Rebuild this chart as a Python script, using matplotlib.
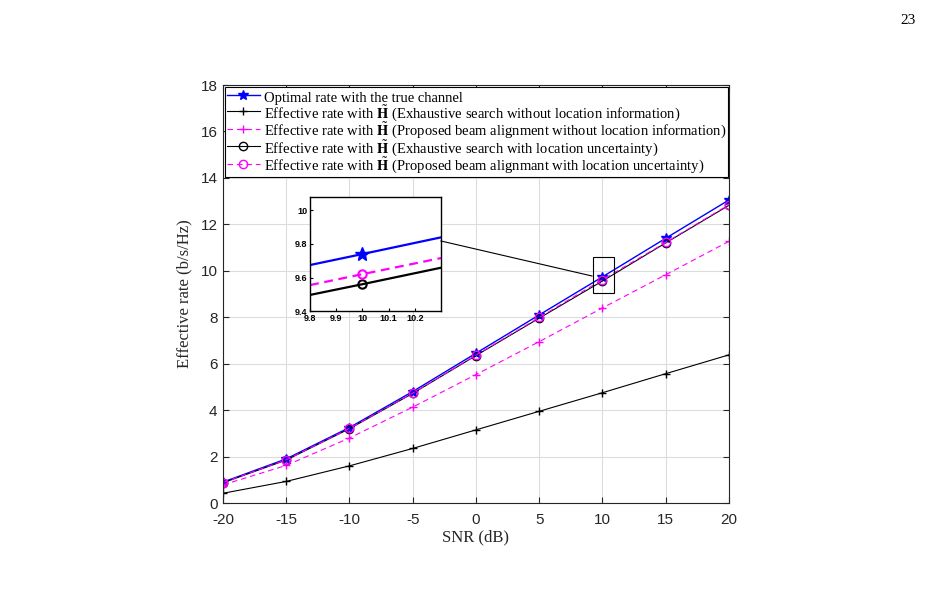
import numpy as np
import matplotlib
matplotlib.use("Agg")
import matplotlib.pyplot as plt
from matplotlib.patches import Rectangle

plt.rcParams['mathtext.fontset'] = 'stix'
plt.rcParams['axes.unicode_minus'] = False

snr = [-20, -15, -10, -5, 0, 5, 10, 15, 20]
rate_opt = [0.90, 1.90, 3.25, 4.80, 6.45, 8.10, 9.74, 11.40, 13.05]
rate_exh_noloc = [0.42, 0.93, 1.60, 2.35, 3.15, 3.95, 4.75, 5.57, 6.38]
rate_prop_noloc = [0.78, 1.62, 2.80, 4.13, 5.53, 6.95, 8.40, 9.83, 11.27]
rate_exh_loc = [0.87, 1.85, 3.20, 4.72, 6.35, 7.96, 9.56, 11.20, 12.82]
rate_prop_loc = [0.88, 1.86, 3.21, 4.73, 6.37, 7.99, 9.62, 11.22, 12.85]

labels = [
    'Optimal rate with the true channel',
    r'Effective rate with $\tilde{\mathbf{H}}$ (Exhaustive search without location information)',
    r'Effective rate with $\tilde{\mathbf{H}}$ (Proposed beam alignment without location information)',
    r'Effective rate with $\tilde{\mathbf{H}}$ (Exhaustive search with location uncertainty)',
    r'Effective rate with $\tilde{\mathbf{H}}$ (Proposed beam alignmant with location uncertainty)',
]

serif = 'Liberation Serif'
sans = 'Liberation Sans'
axcol = '#262626'
dash = (5, 3.5)

fig = plt.figure(figsize=(9.36, 6.03), dpi=100)
ax = fig.add_axes([0.2382, 0.1658, 0.5406, 0.6932])

ax.plot(snr, rate_opt, '-', color='blue', marker='*', ms=7, lw=1.0, label=labels[0])
ax.plot(snr, rate_exh_noloc, '-', color='black', marker='+', ms=6, lw=0.8, label=labels[1])
ax.plot(snr, rate_prop_noloc, '--', dashes=dash, color='magenta', marker='+', ms=6, lw=0.8, label=labels[2])
ax.plot(snr, rate_exh_loc, '-', color='black', marker='o', ms=6, mfc='none', lw=0.8, label=labels[3])
ax.plot(snr, rate_prop_loc, '--', dashes=dash, color='magenta', marker='o', ms=6, mfc='none', lw=0.8, label=labels[4])

ax.set_xlim(-20, 20)
ax.set_ylim(0, 18)
ax.set_xticks(range(-20, 21, 5))
ax.set_yticks(range(0, 19, 2))
ax.grid(True, color='#dcdcdc', lw=0.8)
ax.set_axisbelow(True)
ax.tick_params(direction='in', top=True, right=True, length=4, colors=axcol, labelsize=11)
ax.tick_params(axis='x', pad=7)
ax.tick_params(axis='y', pad=4)
for lab in ax.get_xticklabels() + ax.get_yticklabels():
    lab.set_fontfamily(sans)
for s in ax.spines.values():
    s.set_color(axcol)
    s.set_linewidth(0.8)
ax.set_xlabel('SNR (dB)', fontfamily=serif, fontsize=12, color=axcol, labelpad=2)
ax.set_ylabel('Effective rate (b/s/Hz)', fontfamily=serif, fontsize=12, color=axcol, labelpad=6)

leg = ax.legend(loc='upper left', prop={'family': serif, 'size': 10.5},
                handlelength=2.3, handleheight=1.37, handletextpad=0.25, borderpad=0.1,
                labelspacing=-0.17, borderaxespad=0.15, fancybox=False, framealpha=1)
leg.get_frame().set_edgecolor('black')
leg.get_frame().set_linewidth(0.8)

# zoom box on main axes
ax.add_patch(Rectangle((9.25, 9.05), 1.65, 1.55, fill=False, ec='black', lw=0.8, zorder=5))

# inset
axi = fig.add_axes([0.3312, 0.4842, 0.14, 0.189])
axi.plot(snr, rate_opt, '-', color='blue', marker='*', ms=10, lw=1.6)
axi.plot(snr, rate_exh_loc, '-', color='black', marker='o', ms=6, mfc='none', mew=1.5, lw=1.6)
axi.plot(snr, rate_prop_loc, '--', dashes=(4, 2.5), color='magenta', marker='o', ms=6, mfc='none', mew=1.5, lw=1.6)
axi.set_xlim(9.8, 10.3)
axi.set_ylim(9.4, 10.08)
axi.set_xticks([9.8, 9.9, 10, 10.1, 10.2])
axi.set_xticklabels(['9.8', '9.9', '10', '10.1', '10.2'])
axi.set_yticks([9.4, 9.6, 9.8, 10])
axi.set_yticklabels(['9.4', '9.6', '9.8', '10'])
axi.tick_params(direction='in', length=2, labelsize=6.5, pad=2)
for lab in axi.get_xticklabels() + axi.get_yticklabels():
    lab.set_fontfamily(sans)
    lab.set_fontweight('bold')
for s in axi.spines.values():
    s.set_linewidth(1.0)

# connector line from inset to zoom box
fig.add_artist(plt.Line2D([441 / 936, 592 / 936], [1 - 241 / 603, 1 - 276 / 603],
                          color='black', lw=0.8))

fig.text(908 / 936, 1 - 20 / 603, '23', fontfamily=serif, fontsize=11, ha='center', va='center')

fig.savefig('out.png', dpi=100)
